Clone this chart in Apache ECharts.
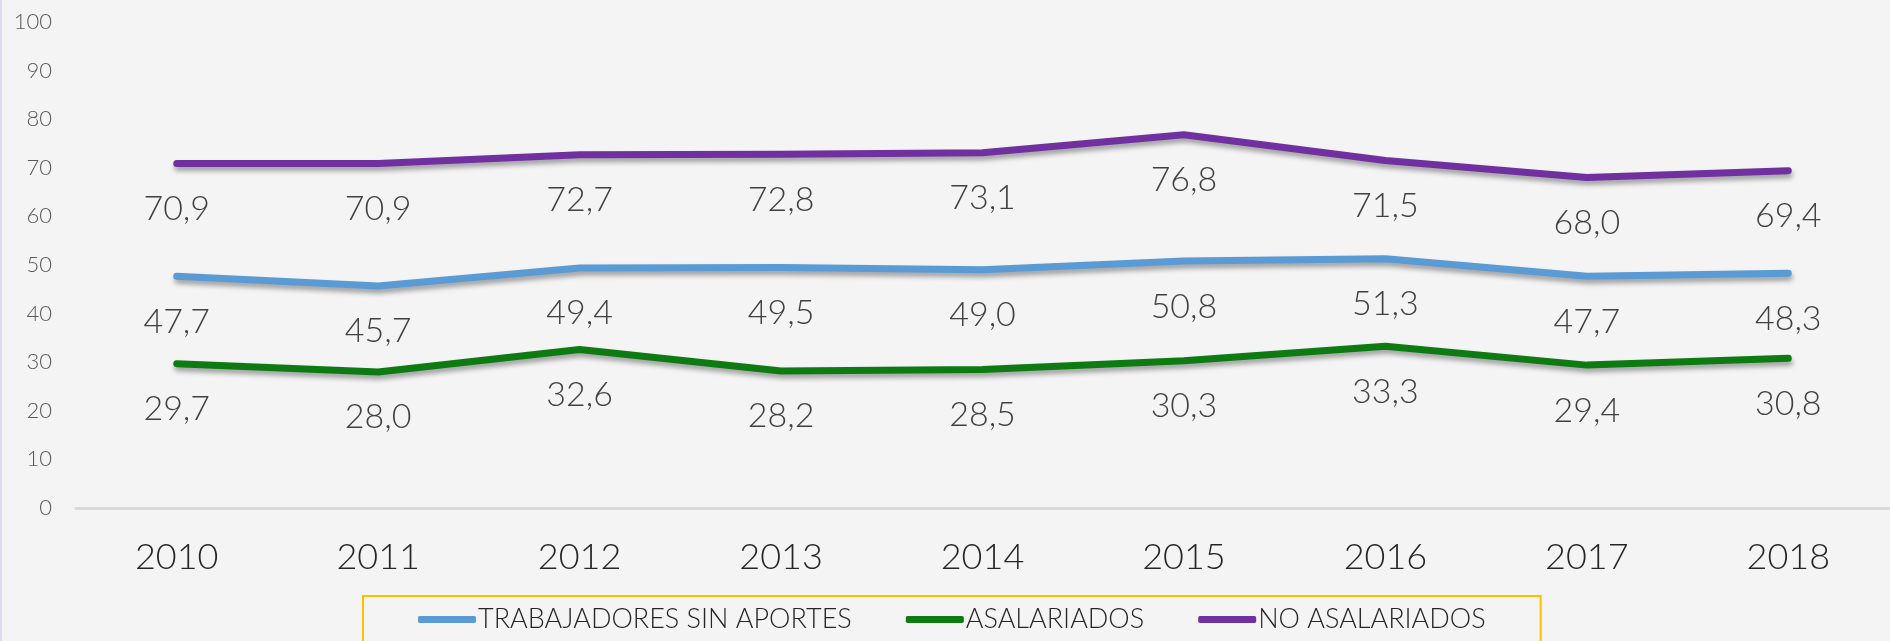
<!DOCTYPE html>
<html>
<head>
<meta charset="utf-8">
<script src="https://cdn.jsdelivr.net/npm/echarts@6/dist/echarts.min.js"></script>
<style>
  html, body { margin: 0; padding: 0; background: #f4f4f4; }
  #chart { width: 1888px; height: 641px; border-left: 2px solid #dcdcee; }
</style>
</head>
<body>
<div id="chart"></div>
<script>
const years = ['2010', '2011', '2012', '2013', '2014', '2015', '2016', '2017', '2018'];
const sinAportes = [47.7, 45.7, 49.4, 49.5, 49.0, 50.8, 51.3, 47.7, 48.3];
const asalariados = [29.7, 28.0, 32.6, 28.2, 28.5, 30.3, 33.3, 29.4, 30.8];
const noAsalariados = [70.9, 70.9, 72.7, 72.8, 73.1, 76.8, 71.5, 68.0, 69.4];

const font = 'Lato, "Open Sans", sans-serif';

const chart = echarts.init(document.getElementById('chart'));

const makeSeries = (name, data, color) => ({
  name,
  type: 'line',
  data,
  symbol: 'circle',
  symbolSize: 1,
  itemStyle: { color },
  lineStyle: {
    color,
    width: 7,
    cap: 'round',
    join: 'round',
    shadowColor: 'rgba(0,0,0,0.35)',
    shadowBlur: 5,
    shadowOffsetX: 1,
    shadowOffsetY: 4
  },
  label: {
    show: true,
    position: 'bottom',
    distance: 28,
    color: '#404040',
    fontFamily: font,
    fontWeight: 300,
    fontSize: 34,
    formatter: p => p.value.toFixed(1).replace('.', ',')
  },
  emphasis: { disabled: true },
  animation: false
});

chart.setOption({
  backgroundColor: '#f4f4f4',
  animation: false,
  grid: { left: 74, right: 1, top: 22, bottom: 133 },
  legend: {
    left: 361,
    top: 596,
    padding: [10, 55, 30, 55],
    borderColor: '#ffc000',
    borderWidth: 2,
    itemWidth: 58,
    itemHeight: 7,
    itemGap: 54,
    icon: 'roundRect',
    textStyle: { color: '#262626', fontFamily: font, fontWeight: 300, fontSize: 27, padding: [0, 0, 0, -3] },
    data: ['TRABAJADORES SIN APORTES', 'ASALARIADOS', 'NO ASALARIADOS']
  },
  xAxis: {
    type: 'category',
    data: years,
    axisLine: { lineStyle: { color: '#d9d9d9', width: 3 } },
    axisTick: { show: false },
    axisLabel: { color: '#262626', fontFamily: font, fontWeight: 300, fontSize: 36, margin: 31 }
  },
  yAxis: {
    type: 'value',
    min: 0,
    max: 100,
    interval: 10,
    splitLine: { show: false },
    axisLine: { show: false },
    axisLabel: { color: '#595959', fontFamily: font, fontWeight: 300, fontSize: 22, margin: 24 }
  },
  series: [
    makeSeries('TRABAJADORES SIN APORTES', sinAportes, '#5b9bd5'),
    makeSeries('ASALARIADOS', asalariados, '#0e7a12'),
    makeSeries('NO ASALARIADOS', noAsalariados, '#7030a0')
  ]
});
</script>
</body>
</html>
